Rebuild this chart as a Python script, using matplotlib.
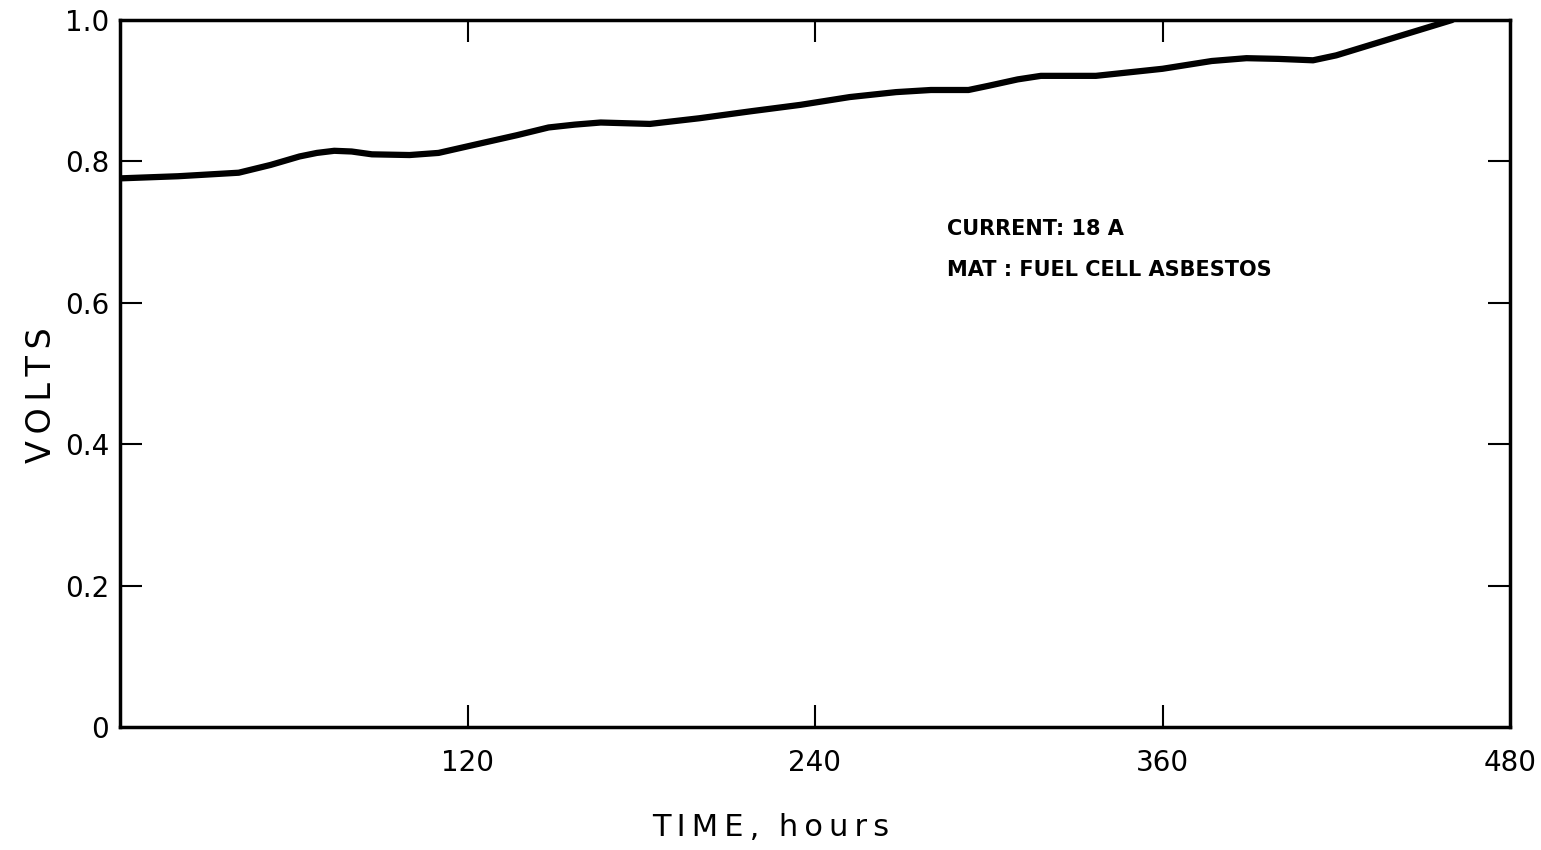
import matplotlib
matplotlib.use("Agg")
import matplotlib.pyplot as plt

# Data
time_hours = [0, 20, 41, 52, 62, 68, 74, 80, 87, 100, 110, 124, 137, 148, 157, 166,
              183, 200, 218, 235, 252, 268, 280, 293, 300, 310, 318, 337, 360,
              377, 389, 400, 412, 420, 460]
volts = [0.776, 0.779, 0.784, 0.795, 0.807, 0.812, 0.815, 0.814, 0.810, 0.809,
         0.812, 0.825, 0.837, 0.848, 0.852, 0.855, 0.853, 0.861, 0.871, 0.880,
         0.891, 0.898, 0.901, 0.901, 0.907, 0.916, 0.921, 0.921, 0.931, 0.942,
         0.946, 0.945, 0.943, 0.950, 1.000]

x_ticks = [120, 240, 360, 480]
x_ticklabels = ["120", "240", "360", "480"]
y_ticks = [0, 0.2, 0.4, 0.6, 0.8, 1.0]
y_ticklabels = ["0", "0.2", "0.4", "0.6", "0.8", "1.0"]

plt.rcParams['font.family'] = ['DejaVu Sans']

fig = plt.figure(figsize=(15.41, 8.5), dpi=100)
ax = fig.add_axes([120/1541, 123/850, 1390/1541, 707/850])

ax.plot(time_hours, volts, color='black', lw=4.5, solid_capstyle='round',
        solid_joinstyle='round')

ax.set_xlim(0, 480)
ax.set_ylim(0, 1.0)
for s in ax.spines.values():
    s.set_linewidth(2.5)

ax.set_xticks(x_ticks)
ax.set_xticklabels(x_ticklabels)
ax.set_yticks(y_ticks)
ax.set_yticklabels(y_ticklabels)
ax.tick_params(axis='both', direction='in', length=16, width=1.5,
               labelsize=20, top=True, right=True)
ax.tick_params(axis='x', pad=16)
ax.tick_params(axis='y', pad=8)

# hide the end ticks at the frame corners
for t in ax.xaxis.get_major_ticks():
    if t.get_loc() >= 480:
        t.tick1line.set_visible(False)
        t.tick2line.set_visible(False)
for t in ax.yaxis.get_major_ticks():
    if t.get_loc() <= 0 or t.get_loc() >= 1.0:
        t.tick1line.set_visible(False)
        t.tick2line.set_visible(False)

ts = "\u2009"
ax.set_xlabel(ts.join("TIME,") + "  " + ts.join("hours"), fontsize=22, labelpad=26)
ax.xaxis.label.set_x(0.468)
ax.set_ylabel(ts.join("VOLTS"), fontsize=24, labelpad=5)
ax.yaxis.label.set_y(0.47)

ax.text(0.595, 0.705, "CURRENT: 18 A", transform=ax.transAxes,
        fontsize=15, fontweight='bold', va='center', ha='left')
ax.text(0.595, 0.647, "MAT : FUEL CELL ASBESTOS", transform=ax.transAxes,
        fontsize=15, fontweight='bold', va='center', ha='left')

fig.savefig("out.png", dpi=100)
